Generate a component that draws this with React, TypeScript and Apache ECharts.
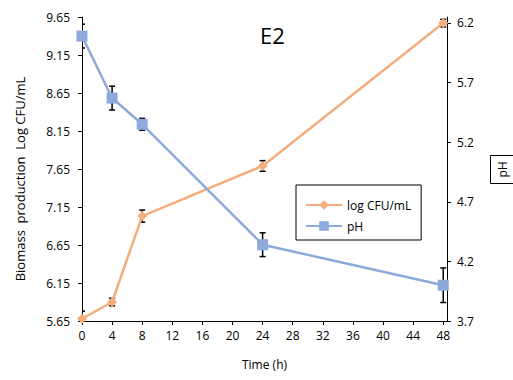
import React, { useEffect, useRef } from "react";
import * as echarts from "echarts";

const timeHours = [0, 4, 8, 24, 48];
const logCfu = [5.68, 5.9, 7.03, 7.69, 9.57];
const logCfuErr = [0.1, 0.05, 0.08, 0.07, 0.05];
const phValues = [6.09, 5.57, 5.35, 4.34, 4.0];
const phErr = [0.1, 0.1, 0.05, 0.1, 0.145];
const xTicks = [0, 4, 8, 12, 16, 20, 24, 28, 32, 36, 40, 44, 48];
const leftTicks = [5.65, 6.15, 6.65, 7.15, 7.65, 8.15, 8.65, 9.15, 9.65];
const rightTicks = [3.7, 4.2, 4.7, 5.2, 5.7, 6.2];

const ORANGE = "#F4AE7E";
const BLUE = "#8EA9DB";
const FONT = "Open Sans";

function errorRender(params: any, api: any) {
  const x = api.value(0);
  const lo = api.value(1);
  const hi = api.value(2);
  const top = api.coord([x, hi]);
  const bot = api.coord([x, lo]);
  const w = 3;
  const style = { stroke: "#000", lineWidth: 1.5 };
  return {
    type: "group",
    children: [
      { type: "line", shape: { x1: top[0], y1: top[1], x2: bot[0], y2: bot[1] }, style },
      { type: "line", shape: { x1: top[0] - w, y1: top[1], x2: top[0] + w, y2: top[1] }, style },
      { type: "line", shape: { x1: bot[0] - w, y1: bot[1], x2: bot[0] + w, y2: bot[1] }, style },
    ],
  };
}

export default function App() {
  const ref = useRef<HTMLDivElement>(null);
  useEffect(() => {
    const chart = echarts.init(ref.current!, null, { renderer: "svg" });
    const axisLine = { show: true, lineStyle: { color: "#000", width: 1 } };
    chart.setOption({
      animation: false,
      textStyle: { fontFamily: FONT },
      title: {
        text: "E2",
        left: 255,
        top: 19,
        textStyle: { fontSize: 22, fontWeight: "normal", color: "#000", fontFamily: FONT },
      },
      graphic: [
        {
          type: "rect",
          shape: { x: 490.5, y: 155.5, width: 30, height: 28 },
          style: { fill: "none", stroke: "#000", lineWidth: 1 },
        },
        {
          type: "text",
          x: 502,
          y: 169.5,
          rotation: Math.PI / 2,
          style: {
            text: "pH",
            fontSize: 12,
            fontFamily: FONT,
            fill: "#000",
            align: "center",
            verticalAlign: "middle",
          },
        },
      ],
      legend: {
        orient: "vertical",
        left: 296,
        top: 185,
        borderColor: "#000",
        borderWidth: 1,
        padding: [14, 10, 8, 9],
        itemWidth: 36,
        itemHeight: 12,
        itemGap: 9,
        textStyle: { fontSize: 12, color: "#000", fontFamily: FONT },
        data: ["log CFU/mL", "pH"],
      },
      grid: { left: 82, right: 66, top: 17, bottom: 59 },
      xAxis: {
        type: "value",
        min: 0,
        max: 48.5,
        name: "Time (h)",
        nameLocation: "middle",
        nameGap: 37,
        nameTextStyle: { fontSize: 12, color: "#000", fontFamily: FONT },
        axisLine,
        axisTick: { show: true, inside: false, length: 4, customValues: xTicks, lineStyle: { color: "#000" } },
        axisLabel: { customValues: xTicks, fontSize: 12, color: "#000", margin: 8, fontFamily: FONT },
        splitLine: { show: false },
      },
      yAxis: [
        {
          type: "value",
          min: 5.65,
          max: 9.65,
          position: "left",
          name: "Biomass  production  Log CFU/mL",
          nameLocation: "middle",
          nameGap: 56,
          nameTextStyle: { fontSize: 13, color: "#000", fontFamily: FONT, padding: [0, 20, 0, 0] },
          axisLine,
          axisTick: { show: true, length: 4, customValues: leftTicks, lineStyle: { color: "#000" } },
          axisLabel: {
            customValues: leftTicks,
            fontSize: 12,
            color: "#000",
            margin: 12,
            fontFamily: FONT,
            formatter: (v: number) => v.toFixed(2),
          },
          splitLine: { show: false },
        },
        {
          type: "value",
          min: 3.7,
          max: 6.25,
          position: "right",
          axisLine,
          axisTick: { show: true, length: 4, customValues: rightTicks, lineStyle: { color: "#000" } },
          axisLabel: {
            customValues: rightTicks,
            fontSize: 12,
            color: "#000",
            margin: 10,
            fontFamily: FONT,
            formatter: (v: number) => v.toFixed(1),
          },
          splitLine: { show: false },
        },
      ],
      series: [
        {
          type: "custom",
          name: "cfuErr",
          yAxisIndex: 0,
          clip: true,
          z: 1,
          renderItem: errorRender,
          data: timeHours.map((t, i) => [t, logCfu[i] - logCfuErr[i], logCfu[i] + logCfuErr[i]]),
        },
        {
          type: "custom",
          name: "phErr",
          yAxisIndex: 1,
          clip: true,
          z: 1,
          renderItem: errorRender,
          data: timeHours.map((t, i) => [t, phValues[i] - phErr[i], phValues[i] + phErr[i]]),
        },
        {
          type: "line",
          name: "log CFU/mL",
          yAxisIndex: 0,
          z: 3,
          data: timeHours.map((t, i) => [t, logCfu[i]]),
          symbol: "diamond",
          symbolSize: 10,
          lineStyle: { color: ORANGE, width: 2.5 },
          itemStyle: { color: ORANGE },
        },
        {
          type: "line",
          name: "pH",
          yAxisIndex: 1,
          z: 3,
          data: timeHours.map((t, i) => [t, phValues[i]]),
          symbol: "rect",
          symbolSize: 11,
          lineStyle: { color: BLUE, width: 2.5 },
          itemStyle: { color: BLUE },
        },
      ],
    });
    return () => chart.dispose();
  }, []);
  return (
    <div
      ref={ref}
      style={{ position: "fixed", left: 0, top: 0, width: 513, height: 380, background: "#fff" }}
    />
  );
}
